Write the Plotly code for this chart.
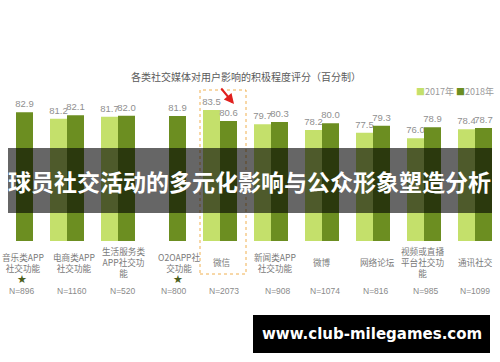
import plotly.graph_objects as go

# ---- data ----
categories = ["音乐类APP<br>社交功能", "电商类APP<br>社交功能", "生活服务类<br>APP社交功<br>能",
              "O2OAPP社<br>交功能", "微信", "新闻类APP<br>社交功能", "微博", "网络论坛",
              "视频或直播<br>平台社交功<br>能", "通讯社交"]
score_2017 = [None, 81.2, 81.7, None, 83.5, 79.7, 78.2, 77.5, 76.0, 78.4]
score_2018 = [82.9, 82.1, 82.0, 81.9, 80.6, 80.3, 80.0, 79.3, 78.9, 78.7]
sample_n = [896, 1160, 520, 800, 2073, 908, 1074, 816, 985, 1099]
starred = [0, 3]
series_names = ["2017年", "2018年"]

chart_title = "各类社交媒体对用户影响的积极程度评分（百分制）"
banner_text = "球员社交活动的多元化影响与公众形象塑造分析"
watermark = "www.club-milegames.com"

# ---- style ----
C17 = "#c4e06b"
C18 = "#6c8e21"
CJK = "Noto Sans CJK SC"
W, Hpx = 500, 362
T, B = 104, 241
H = B - T
PXU = 3.776
y_lo = 83.5 - (B - 110) / PXU
y_hi = y_lo + H / PXU
SP = 51.0
x_lo = -16 / SP
x_hi = x_lo + W / SP
label_shift = [7, 7, 5, 10, 2, 4, 0, 4, -2, 0]
n_shift = [6, 5, 5, 5, 4, 7, 3, 3, 2, 0]


def py(p):
    return (B - p) / H


def pxp(p):
    return p / W


idx = list(range(len(categories)))
fig = go.Figure()
for name, vals, col in [(series_names[0], score_2017, C17), (series_names[1], score_2018, C18)]:
    fig.add_trace(go.Bar(
        x=idx, y=vals, name=name, marker=dict(color=col, line=dict(width=0)),
        text=[("" if v is None else f"{v:.1f}") for v in vals],
        textposition="outside", constraintext="none", cliponaxis=False,
        textfont=dict(family="Liberation Sans", size=9.5, color="#8f8f8f"),
        showlegend=False,
    ))

ann = []
ann.append(dict(text=chart_title, xref="paper", yref="paper", x=pxp(246), y=py(77),
                showarrow=False, font=dict(family=CJK, size=10, color="#5a5a5a"),
                xanchor="center", yanchor="middle"))
ann.append(dict(text=f"<span style='color:{C17}'>■</span>{series_names[0]} "
                     f"<span style='color:{C18}'>■</span>{series_names[1]}",
                xref="paper", yref="paper", x=pxp(496), y=py(91), showarrow=False,
                font=dict(family=CJK, size=9, color="#9a9a9a"), xanchor="right", yanchor="middle"))
for i, c in enumerate(categories):
    ann.append(dict(text=c, xref="x", yref="paper", x=i, y=py(262), showarrow=False,
                    xshift=label_shift[i],
                    font=dict(family=CJK, size=8.6, color="#7a7a7a"), xanchor="center",
                    yanchor="middle", align="center"))
    ann.append(dict(text=f"N={sample_n[i]}", xref="x", yref="paper", x=i, y=py(291),
                    showarrow=False, xshift=n_shift[i],
                    font=dict(family="Liberation Sans", size=8.5, color="#8a8a8a"),
                    xanchor="center", yanchor="middle"))
for i in starred:
    ann.append(dict(text="★", xref="x", yref="paper", x=i, y=py(279.5), showarrow=False,
                    xshift=label_shift[i] - 1,
                    font=dict(family="DejaVu Sans", size=11, color="#4b5e1b"),
                    xanchor="center", yanchor="middle"))
# red arrow
ann.append(dict(text="", xref="paper", yref="paper", x=pxp(234), y=py(104), ax=-14, ay=-17,
                showarrow=True, arrowhead=2, arrowsize=1, arrowwidth=2, arrowcolor="#e0201e"))
# banner title
ann.append(dict(text=f"<b>{banner_text}</b>", xref="paper", yref="paper", x=pxp(249), y=py(181),
                showarrow=False, font=dict(family=CJK, size=23, color="white"),
                xanchor="center", yanchor="middle"))
ann.append(dict(text=f"<b>{watermark}</b>", xref="paper", yref="paper", x=pxp(371.5), y=py(334),
                showarrow=False, font=dict(family="DejaVu Sans", size=15, color="white"),
                xanchor="center", yanchor="middle"))

shapes = [
    dict(type="rect", xref="paper", yref="paper", x0=pxp(200), x1=pxp(246), y0=py(274), y1=py(90),
         line=dict(color="#f0b050", width=1, dash="dot"), fillcolor="rgba(0,0,0,0)", layer="above"),
    dict(type="rect", xref="paper", yref="paper", x0=pxp(8), x1=pxp(492), y0=py(213), y1=py(148),
         line=dict(width=0), fillcolor="rgba(0,0,0,0.6)", layer="above"),
    dict(type="rect", xref="paper", yref="paper", x0=pxp(253), x1=pxp(490), y0=py(353), y1=py(315),
         line=dict(width=0), fillcolor="black", layer="above"),
]

fig.update_layout(
    width=W, height=Hpx, autosize=False,
    margin=dict(l=0, r=0, t=T, b=Hpx - B, pad=0),
    paper_bgcolor="white", plot_bgcolor="white",
    barmode="group", bargap=1 - 34 / SP, bargroupgap=0,
    xaxis=dict(range=[x_lo, x_hi], visible=False, fixedrange=True),
    yaxis=dict(range=[y_lo, y_hi], visible=False, fixedrange=True),
    annotations=ann, shapes=shapes, showlegend=False,
)
fig.write_html("out.html")
